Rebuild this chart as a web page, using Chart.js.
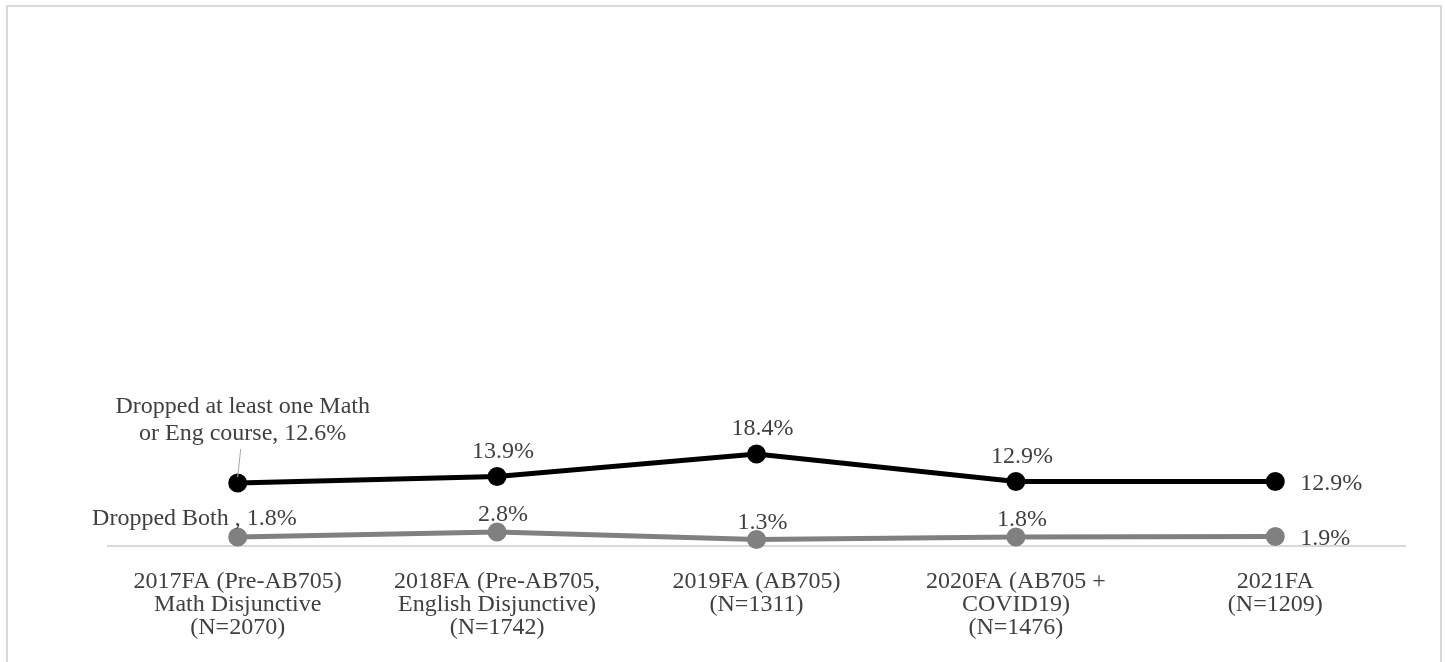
<!DOCTYPE html>
<html>
<head>
<meta charset="utf-8">
<script src="https://cdn.jsdelivr.net/npm/chart.js@4"></script>
<style>
  body { margin: 0; overflow: hidden; background: #fff; }
  #frame { position: absolute; left: 6px; top: 5px; width: 1432px; height: 700px; border: 2px solid #d9d9d9; }
  #myChart { position: absolute; left: 0; top: 0; }
</style>
</head>
<body>
<div id="frame"></div>
<canvas id="myChart" width="1445" height="662"></canvas>
<script>
const xlabel = [
  ['2017FA (Pre-AB705)', 'Math Disjunctive', '(N=2070)'],
  ['2018FA (Pre-AB705,', 'English Disjunctive)', '(N=1742)'],
  ['2019FA (AB705)', '(N=1311)'],
  ['2020FA (AB705 +', 'COVID19)', '(N=1476)'],
  ['2021FA', '(N=1209)']
];
const droppedOne = [12.6, 13.9, 18.4, 12.9, 12.9];
const droppedBoth = [1.8, 2.8, 1.3, 1.8, 1.9];
const seriesNames = [['Dropped at least one Math', 'or Eng course'], ['Dropped Both ']];

const serif = '"Liberation Serif", "Times New Roman", serif';
const textColor = '#404040';

// draws the data labels the way the original (excel) chart places them
const valueLabels = {
  id: 'valueLabels',
  afterDatasetsDraw(chart) {
    const ctx = chart.ctx;
    ctx.save();
    ctx.font = '24px ' + serif;
    ctx.fillStyle = textColor;
    ctx.textBaseline = 'middle';
    chart.data.datasets.forEach((ds, i) => {
      const meta = chart.getDatasetMeta(i);
      const last = ds.data.length - 1;
      meta.data.forEach((pt, j) => {
        const txt = ds.data[j].toFixed(1) + '%';
        const x = pt.x, y = pt.y;
        if (j === 0) {
          const name = seriesNames[i];
          if (i === 0) {
            ctx.textAlign = 'center';
            ctx.fillText(name[0], x + 5, y - 76);
            ctx.fillText(name[1] + ', ' + txt, x + 5, y - 49);
            ctx.strokeStyle = '#a6a6a6';
            ctx.lineWidth = 1;
            ctx.beginPath();
            ctx.moveTo(x + 3, y - 34);
            ctx.lineTo(x, y - 6);
            ctx.stroke();
          } else {
            ctx.textAlign = 'right';
            ctx.fillText(name[0] + ', ' + txt, x + 59, y - 18);
          }
        } else if (j === last) {
          ctx.textAlign = 'left';
          ctx.fillText(txt, x + 25, y + 2);
        } else {
          ctx.textAlign = 'center';
          ctx.fillText(txt, x + 6, i === 0 ? y - 25 : y - 17);
        }
      });
    });
    ctx.restore();
  }
};

const data = {
  labels: xlabel,
  datasets: [
    {
      label: 'Dropped at least one Math or Eng course',
      data: droppedOne,
      borderColor: '#000000',
      backgroundColor: '#000000',
      borderWidth: 5,
      pointRadius: 7,
      pointHoverRadius: 7,
      tension: 0,
      clip: false
    },
    {
      label: 'Dropped Both',
      data: droppedBoth,
      borderColor: '#808080',
      backgroundColor: '#808080',
      borderWidth: 5,
      pointRadius: 7,
      pointHoverRadius: 7,
      tension: 0,
      clip: false
    }
  ]
};

const config = {
  type: 'line',
  data: data,
  options: {
    responsive: false,
    animation: false,
    devicePixelRatio: 1,
    layout: { padding: { left: 108, right: 40, top: 46, bottom: 0 } },
    plugins: {
      legend: { display: false },
      tooltip: { enabled: false }
    },
    scales: {
      x: {
        offset: true,
        grid: { display: false },
        border: { display: true, color: '#d9d9d9', width: 2 },
        ticks: {
          color: textColor,
          font: { family: serif, size: 24, lineHeight: 0.96 },
          padding: 16,
          maxRotation: 0,
          autoSkip: false
        },
        afterFit(scale) { scale.height = 116; }
      },
      y: {
        display: false,
        min: 0,
        max: 100
      }
    }
  },
  plugins: [valueLabels]
};

let ctx = document.getElementById('myChart').getContext('2d');
let chart = new Chart(ctx, config);
</script>
</body>
</html>
